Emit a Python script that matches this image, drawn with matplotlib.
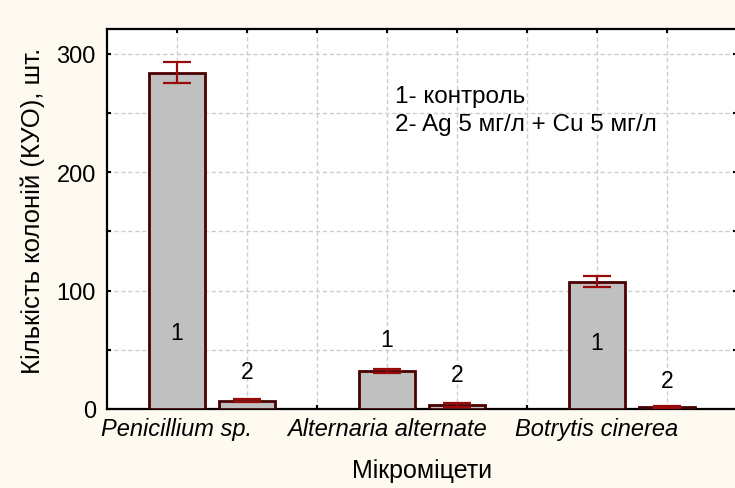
import matplotlib.pyplot as plt

plt.rcParams['font.family'] = ['Liberation Sans', 'DejaVu Sans']

# bar positions: two treatments per fungus, gap between groups
positions = [1, 2, 4, 5, 7, 8]
means = [284, 7, 32, 3.5, 107.5, 1.5]
errors = [9, 1.5, 1.5, 1.5, 4.5, 1]
bar_labels = ['1', '2', '1', '2', '1', '2']
label_y = [65, 31.5, 59, 29.5, 56.5, 24]

tick_pos = [1, 2, 3, 4, 5, 6, 7, 8]
tick_labels = ['Penicillium sp.', '', '', 'Alternaria alternate', '', '',
               'Botrytis cinerea', '']

legend_lines = ['1- контроль', '2- Ag 5 мг/л + Cu 5 мг/л']

bg = '#fffaf0'
fig = plt.figure(figsize=(7.35, 4.89), dpi=100, facecolor=bg)
ax = fig.add_axes([107 / 735, 1 - 410 / 489, 630 / 735, 380 / 489])
ax.set_facecolor('white')

ax.bar(positions, means, width=0.8, color='#c0c0c0', edgecolor='#4a0000',
       linewidth=2, zorder=3)
ax.errorbar(positions, means, yerr=errors, fmt='none', ecolor='#9a0a0a',
            elinewidth=1.6, capsize=10, capthick=1.6, zorder=4)

for x, y, s in zip(positions, label_y, bar_labels):
    ax.text(x, y, s, ha='center', va='center', fontsize=16.5, zorder=5)

ax.text(4.12, 264, legend_lines[0], ha='left', va='center', fontsize=17.5)
ax.text(4.12, 241, legend_lines[1], ha='left', va='center', fontsize=17.5)

ax.set_xlim(0, 9)
ax.set_ylim(0, 321)
ax.set_xticks(tick_pos)
ax.set_xticklabels(tick_labels, fontsize=17, style='italic')
ax.set_yticks([0, 50, 100, 150, 200, 250, 300])
ax.set_yticklabels(['0', '', '100', '', '200', '', '300'], fontsize=17)
ax.tick_params(direction='in', length=3, width=1.5, top=True, right=True,
               pad=6)
ax.tick_params(axis='y', pad=8)

ax.grid(True, color='#cccccc', linestyle=(0, (3, 2)), linewidth=1, zorder=0)
ax.set_axisbelow(True)

for side in ['left', 'bottom', 'top']:
    ax.spines[side].set_linewidth(1.6)
ax.spines['right'].set_visible(False)

ax.set_xlabel('Мікроміцети', fontsize=18, labelpad=13)
ax.set_ylabel('Кількість колоній (КУО), шт.', fontsize=18.5)
ax.yaxis.set_label_coords(-0.099, 0.524)

fig.savefig('out.png', dpi=100, facecolor=bg)
